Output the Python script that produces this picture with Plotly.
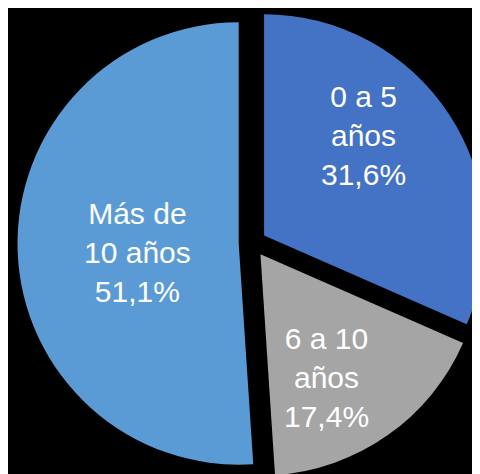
import plotly.graph_objects as go

labels = ["0 a 5 años", "6 a 10 años", "Más de 10 años"]
values = [31.6, 17.4, 51.1]
slice_text = ["0 a 5<br>años<br>31,6%", "6 a 10<br>años<br>17,4%", "Más de<br>10 años<br>51,1%"]
colors = ["#4472C4", "#A5A5A5", "#5B9BD5"]

# where each label block sits (paper coords)
label_pos = [(0.7396, 0.732), (0.6625, 0.2215), (0.2708, 0.4852)]

fig = go.Figure()

fig.add_trace(go.Pie(labels=labels,
                     values=values,
                     textinfo="none",
                     sort=False,
                     direction="clockwise",
                     rotation=0,
                     pull=[0.0625, 0.0625, 0.0625],
                     marker=dict(colors=colors, line=dict(width=0)),
                     domain=dict(x=[0.0198, 0.999], y=[0.0084, 1]),
                     hoverinfo="label+percent"))

for txt, (px, py) in zip(slice_text, label_pos):
    fig.add_annotation(x=px, y=py, xref="paper", yref="paper",
                       text=txt, showarrow=False,
                       xanchor="center", yanchor="middle", align="center",
                       font=dict(family="Liberation Sans, Arial", size=30, color="white"))

fig.update_layout(width=480, height=474,
                  margin=dict(l=0, r=0, t=0, b=0),
                  paper_bgcolor="black",
                  plot_bgcolor="black",
                  showlegend=False)

fig.write_html("out.html")
